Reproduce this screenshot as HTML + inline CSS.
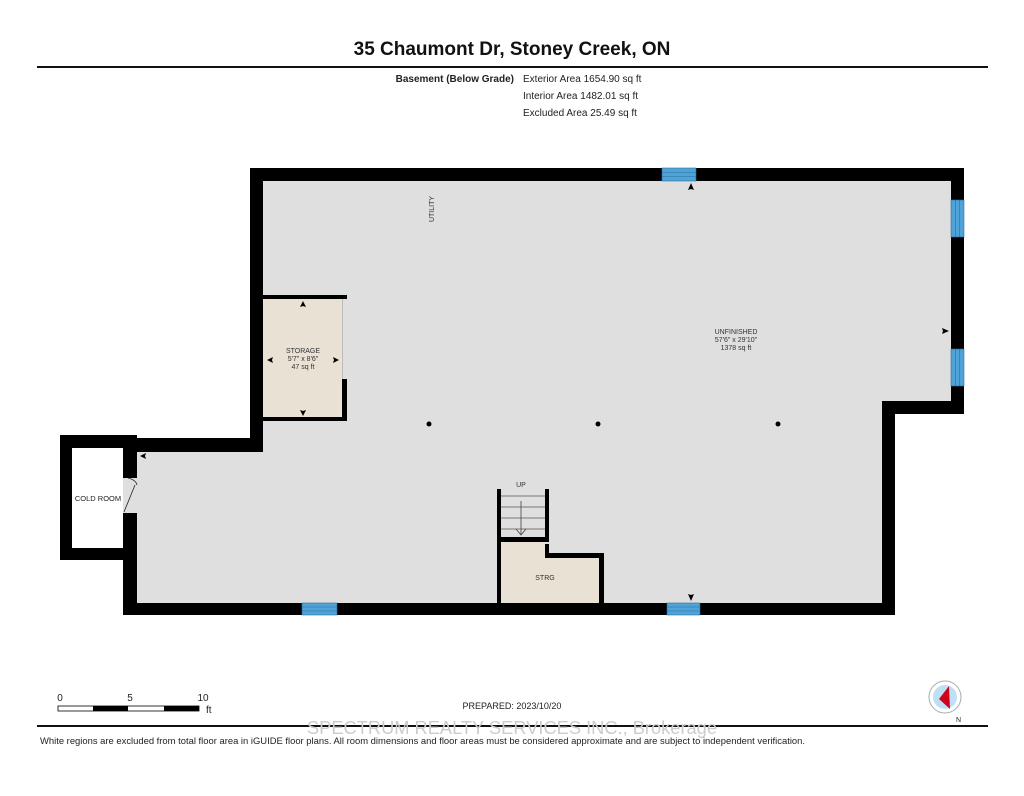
<!DOCTYPE html>
<html><head><meta charset="utf-8"><style>
html,body{margin:0;padding:0;background:#fff;}
body{width:1024px;height:791px;overflow:hidden;font-family:"Liberation Sans",sans-serif;}
</style></head><body>
<svg width="1024" height="791" viewBox="0 0 1024 791" xmlns="http://www.w3.org/2000/svg" font-family="Liberation Sans, sans-serif">
<text x="512" y="55" text-anchor="middle" font-size="19" font-weight="bold" fill="#111">35 Chaumont Dr, Stoney Creek, ON</text>
<rect x="37" y="66" width="951" height="2" fill="#111"/>
<text x="514" y="82" text-anchor="end" font-size="10" font-weight="bold" fill="#222">Basement (Below Grade)</text>
<text x="523" y="82" font-size="10" fill="#222">Exterior Area 1654.90 sq ft</text>
<text x="523" y="99" font-size="10" fill="#222">Interior Area 1482.01 sq ft</text>
<text x="523" y="116" font-size="10" fill="#222">Excluded Area 25.49 sq ft</text>

<polygon points="250,168 964,168 964,414 895,414 895,615 123,615 123,438 250,438" fill="#000"/>
<polygon points="263,181 951,181 951,401 882,401 882,603 137,603 137,452 263,452" fill="#dfdfdf"/>
<rect x="60" y="435" width="77" height="125" fill="#000"/>
<rect x="72" y="448" width="51" height="100" fill="#fff"/>
<rect x="123" y="478" width="14" height="35" fill="#dfdfdf"/>
<path d="M124,512 L135,485 M128,478 Q136,480 137,485" stroke="#222" stroke-width="0.8" fill="none"/>
<text x="98" y="501" text-anchor="middle" font-size="7.5" fill="#222">COLD ROOM</text>
<path d="M140,456 l6,-3 l-1,3 l1,3z" fill="#000"/>

<rect x="263" y="298" width="79" height="121" fill="#e9e1d3"/>
<rect x="263" y="295" width="84" height="4" fill="#000"/>
<rect x="342" y="379" width="5" height="42" fill="#000"/>
<rect x="263" y="417" width="84" height="4" fill="#000"/>
<rect x="342" y="299" width="1" height="80" fill="#bbb"/>
<text x="303" y="353" text-anchor="middle" font-size="7" fill="#333">STORAGE</text>
<text x="303" y="361" text-anchor="middle" font-size="7" fill="#333">5'7" x 8'6"</text>
<text x="303" y="369" text-anchor="middle" font-size="7" fill="#333">47 sq ft</text>
<path d="M303,301 l-3,6 l3,-1 l3,1z M303,416 l-3,-6 l3,1 l3,-1z M267,360 l6,-3 l-1,3 l1,3z M339,360 l-6,-3 l1,3 l-1,3z" fill="#000"/>

<text x="434" y="209" font-size="7" fill="#333" transform="rotate(-90 434 209)" text-anchor="middle">UTILITY</text>
<text x="736" y="334" text-anchor="middle" font-size="7" fill="#333">UNFINISHED</text>
<text x="736" y="342" text-anchor="middle" font-size="7" fill="#333">57'6" x 29'10"</text>
<text x="736" y="350" text-anchor="middle" font-size="7" fill="#333">1378 sq ft</text>
<circle cx="429" cy="424" r="2.5" fill="#000"/>
<circle cx="598" cy="424" r="2.5" fill="#000"/>
<circle cx="778" cy="424" r="2.5" fill="#000"/>
<path d="M691,183 l-3,7 l3,-1 l3,1z M949,331 l-7,-3 l1,3 l-1,3z M691,601 l-3,-7 l3,1 l3,-1z" fill="#000"/>

<rect x="497" y="489" width="4" height="114" fill="#000"/>
<rect x="545" y="489" width="4" height="55" fill="#000"/>
<rect x="497" y="537" width="52" height="5" fill="#000"/>
<rect x="501" y="542" width="98" height="61" fill="#e9e1d3"/>
<rect x="545" y="553" width="59" height="5" fill="#000"/>
<rect x="599" y="553" width="5" height="50" fill="#000"/>
<rect x="545" y="542" width="54" height="11" fill="#dfdfdf"/>
<rect x="545" y="544" width="4" height="12" fill="#000"/>
<g stroke="#777" stroke-width="1"><line x1="501" y1="496" x2="545" y2="496"/><line x1="501" y1="507" x2="545" y2="507"/><line x1="501" y1="518" x2="545" y2="518"/><line x1="501" y1="529" x2="545" y2="529"/></g>
<path d="M521,501 V534 M516,529 L521,535 L526,529" stroke="#444" stroke-width="0.8" fill="none"/>
<text x="521" y="487" text-anchor="middle" font-size="7" fill="#333">UP</text>
<text x="545" y="580" text-anchor="middle" font-size="7" fill="#333">STRG</text>

<g fill="#4fa3d8" stroke="#2b6f99" stroke-width="0.6">
<rect x="662" y="168" width="34" height="13"/><line x1="662" y1="172.5" x2="696" y2="172.5"/><line x1="662" y1="176.5" x2="696" y2="176.5"/>
<rect x="302" y="603" width="35" height="12"/><line x1="302" y1="607" x2="337" y2="607"/><line x1="302" y1="611" x2="337" y2="611"/>
<rect x="667" y="603" width="33" height="12"/><line x1="667" y1="607" x2="700" y2="607"/><line x1="667" y1="611" x2="700" y2="611"/>
<rect x="951" y="200" width="13" height="37"/><line x1="955.5" y1="200" x2="955.5" y2="237"/><line x1="959.5" y1="200" x2="959.5" y2="237"/>
<rect x="951" y="349" width="13" height="37"/><line x1="955.5" y1="349" x2="955.5" y2="386"/><line x1="959.5" y1="349" x2="959.5" y2="386"/>
</g>

<text x="60" y="701" text-anchor="middle" font-size="10" fill="#222">0</text>
<text x="130" y="701" text-anchor="middle" font-size="10" fill="#222">5</text>
<text x="203" y="701" text-anchor="middle" font-size="10" fill="#222">10</text>
<rect x="58" y="706" width="141" height="5" fill="#fff" stroke="#000" stroke-width="0.8"/>
<rect x="93" y="706" width="35" height="5" fill="#000"/>
<rect x="164" y="706" width="35" height="5" fill="#000"/>
<text x="206" y="713" font-size="10" fill="#222">ft</text>
<text x="512" y="709" text-anchor="middle" font-size="9" fill="#222">PREPARED: 2023/10/20</text>
<circle cx="945" cy="697" r="16" fill="#fff" stroke="#aaa"/>
<circle cx="945" cy="697" r="12" fill="#bfe0f4"/>
<path d="M949,686 L939,699 L950,709z" fill="#d0021b"/>
<text x="956" y="722" font-size="7" fill="#222">N</text>
<rect x="37" y="725" width="951" height="2" fill="#111"/>
<text x="512" y="734" text-anchor="middle" font-size="18" fill="#ccc" textLength="410" lengthAdjust="spacingAndGlyphs">SPECTRUM REALTY SERVICES INC., Brokerage</text>
<text x="40" y="744" font-size="9" fill="#222" textLength="765" lengthAdjust="spacingAndGlyphs">White regions are excluded from total floor area in iGUIDE floor plans. All room dimensions and floor areas must be considered approximate and are subject to independent verification.</text>
</svg>
</body></html>
